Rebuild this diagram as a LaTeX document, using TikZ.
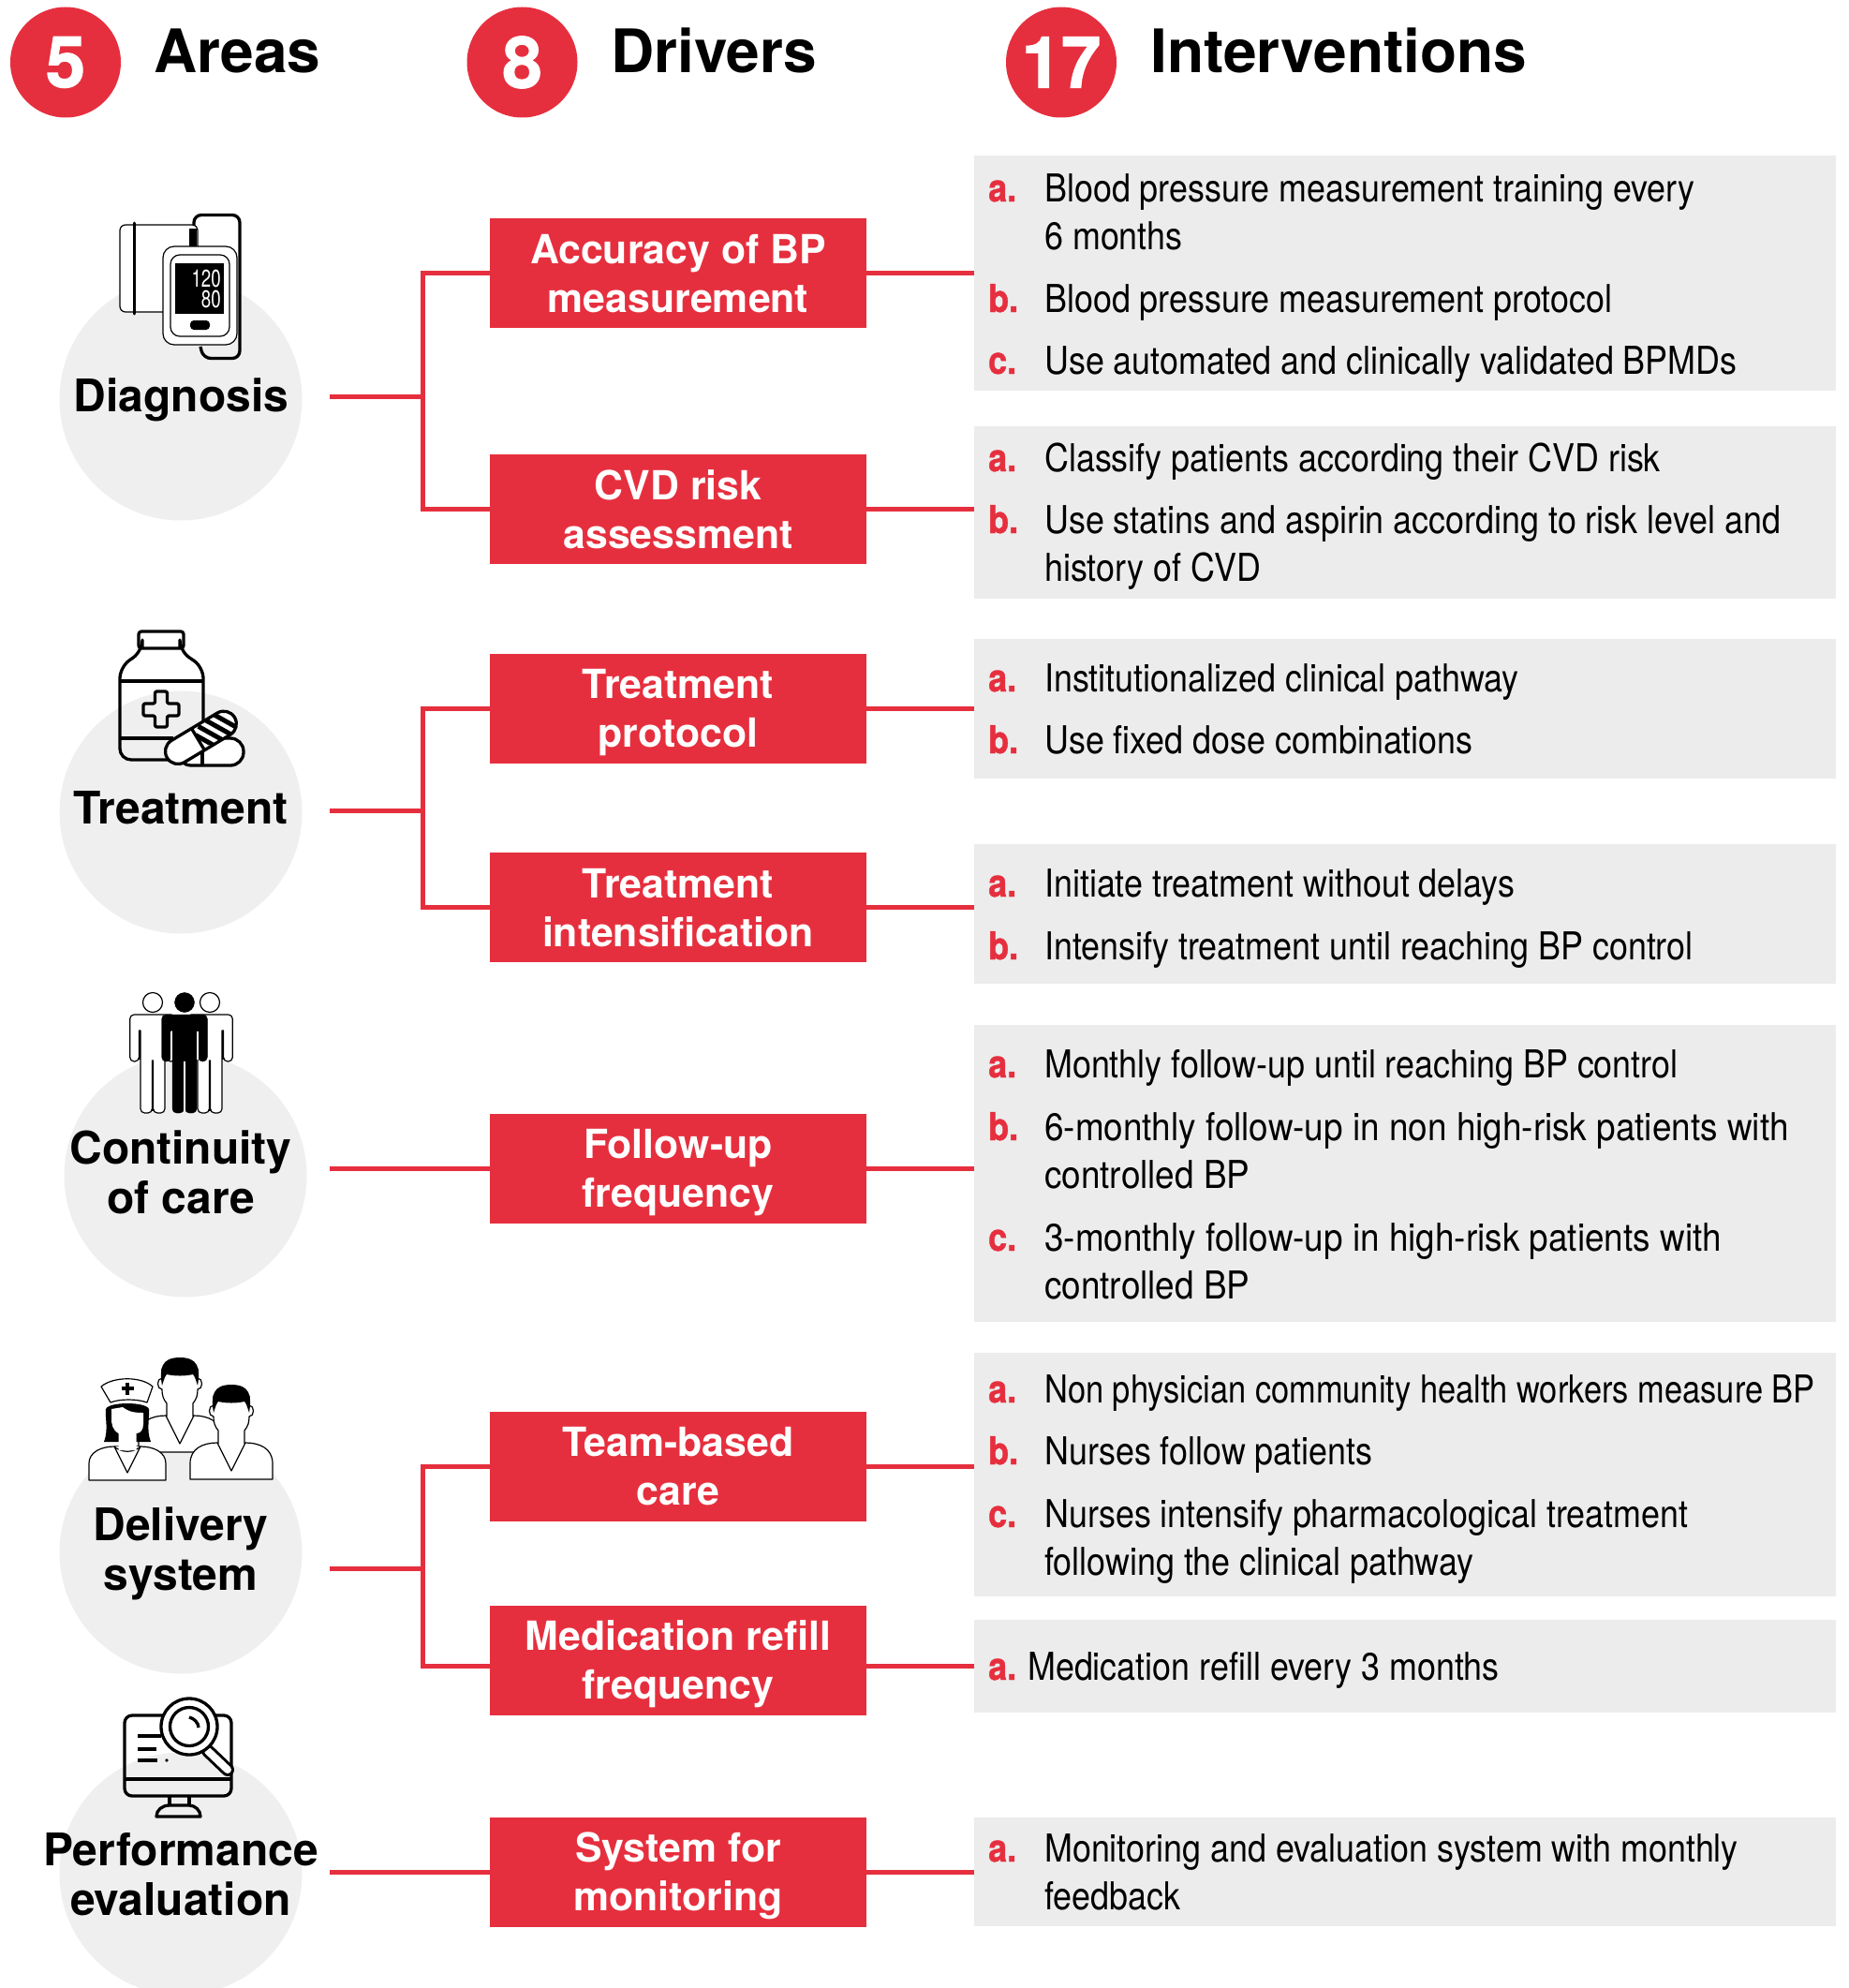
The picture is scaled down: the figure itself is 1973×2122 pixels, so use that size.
\documentclass[tikz,border=0pt]{standalone}
\usepackage{xcolor}
\usepackage{fontspec}
\setmainfont{TeX Gyre Heros}
\newfontfamily\condfont[FakeStretch=0.875, BoldFeatures={FakeBold=1}]{TeX Gyre Heros}
\newfontfamily\tightfont[FakeStretch=0.84]{TeX Gyre Heros}
\newfontfamily\widefont[FakeStretch=0.90]{TeX Gyre Heros}
\newfontfamily\countfont[BoldFeatures={FakeBold=1.5}]{TeX Gyre Heros}
\newfontfamily\lcdfont[FakeStretch=0.72]{TeX Gyre Heros}
\definecolor{wred}{HTML}{E62F3E}
\definecolor{wbox}{HTML}{ECECEC}
\definecolor{wdisc}{HTML}{EFEFEF}
\tikzset{
	wcount/.style={circle, fill=wred, text=white, minimum size=118pt, inner sep=0, font=\fontsize{76}{76}\countfont\bfseries},
	wtitle/.style={anchor=base west, inner sep=0, font=\fontsize{64}{64}\selectfont\bfseries},
	wdiscnode/.style={circle, fill=wdisc, minimum size=259pt, inner sep=0},
	warea/.style={anchor=base, inner sep=0, align=center, font=\fontsize{48}{53}\selectfont\bfseries},
	wdriver/.style={fill=wred, text=white, minimum width=402pt, minimum height=117pt, inner sep=0, align=center, text height=83pt, text depth=0pt, font=\fontsize{42.8}{52}\selectfont\bfseries},
	wpanel/.style={fill=wbox, anchor=north west, minimum width=920pt, inner sep=0},
	wletter/.style={anchor=base west, inner sep=0, text=wred, font=\fontsize{41}{51}\condfont\bfseries},
	witem/.style={anchor=base west, inner sep=0, align=left, font=\fontsize{41}{51}\condfont},
	wlink/.style={draw=wred, line width=5pt},
	wicon/.style={draw=black, line width=3.3pt, line join=round},
	wthin/.style={draw=black, line width=1.2pt, fill=white, line join=round},
}
\newcommand{\drawfigure}[3]{
	\begin{scope}[shift={(#1,1083)}]
		\draw[#2] (-24.3,20) [rounded corners=4.5] -- (-24.3,0) -- (24.3,0) -- (24.3,50) -- (14.6,50) [sharp corners] -- (14.6,17) -- (13,17) [rounded corners=4.5] -- (13,105) -- (0.6,105) [sharp corners] -- (0.6,49) -- (-0.6,49) [rounded corners=4.5] -- (-0.6,105) -- (-13,105) [sharp corners] -- (-13,17) -- (-14.6,17) [rounded corners=4.5] -- (-14.6,50) -- (-24.3,50) -- cycle;
		\draw[#2] (0,-13) circle (10.5);
		\draw[#3, line width=1.2pt] (14,18) -- (14,48) (-14,18) -- (-14,48) (0,50) -- (0,103);
	\end{scope}
}
\newcommand{\drawman}[2]{
	\begin{scope}[shift={(#1,#2)}]
		\draw[wthin] (-44,39) -- (-44,22) .. controls (-44,6) and (-30,0) .. (-15,0) -- (15,0) .. controls (30,0) and (44,6) .. (44,22) -- (44,39) -- cycle;
		\draw[wthin] (-15,0) -- (0,30) -- (15,0);
		\draw[wthin] (-14,1) -- (-14,-13) .. controls (-18,-18) and (-19,-22) .. (-19,-28) .. controls (-25,-28) and (-25,-40) .. (-19,-40) -- (-19,-50) -- (19,-50) -- (19,-40) .. controls (25,-40) and (25,-28) .. (19,-28) .. controls (19,-22) and (18,-18) .. (14,-13) -- (14,1);
		\fill[black] (-19,-32) .. controls (-22,-50) and (-20,-62) .. (0,-62) .. controls (20,-62) and (22,-50) .. (19,-32) .. controls (17,-38) and (16,-42) .. (14,-44) .. controls (5,-42) and (-5,-42) .. (-14,-44) .. controls (-16,-42) and (-17,-38) .. (-19,-32) -- cycle;
	\end{scope}
}
\begin{document}
\begin{tikzpicture}[x=1pt, y=-1pt]
	\useasboundingbox (0,0) rectangle (1973,2122);

	% header row
	\node[wcount] (fivecount) at (70,66.5) {5};
	\node[wcount] (eightcount) at (557.5,66.5) {8};
	\node[wcount] (seventeencount) at (1133,66.5) {17};
	\node[wtitle] (areastitle) at (164,78) {Areas};
	\node[wtitle] (driverstitle) at (652,78) {Drivers};
	\node[wtitle] (intervtitle) at (1228,78) {Interventions};

	% area discs
	\node[wdiscnode] (diagdisc) at (193,426) {};
	\node[wdiscnode] (treatdisc) at (193,867) {};
	\node[wdiscnode] (contdisc) at (198,1255) {};
	\node[wdiscnode] (delivdisc) at (193,1657) {};
	\node[wdiscnode] (perfdisc) at (193,2000) {};
	\node[warea] (diaglabel) at (193.5,439) {Diagnosis};
	\node[warea] (treatlabel) at (193,879) {Treatment};
	\node[warea] (contlabel) at (193,1295) {Continuity\\of care};
	\node[warea] (delivlabel) at (193,1697) {Delivery\\system};
	\node[warea] (perflabel) at (193,2044) {Performance\\evaluation};

	% grey panels
	\node[wpanel, minimum height=251pt] (accpanel) at (1040,166) {};
	\node[wpanel, minimum height=184pt] (cvdpanel) at (1040,455) {};
	\node[wpanel, minimum height=149pt] (protpanel) at (1040,682) {};
	\node[wpanel, minimum height=149pt] (intenspanel) at (1040,901) {};
	\node[wpanel, minimum height=317pt] (followpanel) at (1040,1094) {};
	\node[wpanel, minimum height=260pt] (teampanel) at (1040,1444) {};
	\node[wpanel, minimum height=99pt] (refillpanel) at (1040,1729) {};
	\node[wpanel, minimum height=116pt] (monitorpanel) at (1040,1940) {};

	% drivers
	\node[wdriver] (accbox) at (724,291.5) {Accuracy of BP\\measurement};
	\node[wdriver] (cvdbox) at (724,543.5) {CVD risk\\assessment};
	\node[wdriver] (protbox) at (724,756) {Treatment\\protocol};
	\node[wdriver] (intensbox) at (724,968.5) {Treatment\\intensification};
	\node[wdriver] (followbox) at (724,1247) {Follow-up\\frequency};
	\node[wdriver] (teambox) at (724,1565) {Team-based\\care};
	\node[wdriver] (refillbox) at (724,1772) {Medication refill\\frequency};
	\node[wdriver] (monitorbox) at (724,1998) {System for\\monitoring};

	% connectors
	\coordinate (diagout) at (352,423);
	\coordinate (treatout) at (352,865);
	\coordinate (contout) at (352,1247);
	\coordinate (delivout) at (352,1674);
	\coordinate (perfout) at (352,1998);
	\coordinate (diagfork) at (451,423);
	\coordinate (treatfork) at (451,865);
	\coordinate (delivfork) at (451,1674);
	\coordinate (refillin) at ([yshift=-6pt]refillbox.west);
	\coordinate (refillout) at ([yshift=-6pt]refillbox.east);
	\draw[wlink] (diagout) -- (diagfork);
	\draw[wlink] (treatout) -- (treatfork);
	\draw[wlink] (delivout) -- (delivfork);
	\draw[wlink] (contout) -- (followbox.west);
	\draw[wlink] (perfout) -- (monitorbox.west);
	\draw[wlink] (diagfork) |- (accbox.west);
	\draw[wlink] (diagfork) |- (cvdbox.west);
	\draw[wlink] (treatfork) |- (protbox.west);
	\draw[wlink] (treatfork) |- (intensbox.west);
	\draw[wlink] (delivfork) |- (teambox.west);
	\draw[wlink] (delivfork) |- (refillin);
	\draw[wlink] (accbox.east) -- (accbox.east -| accpanel.west);
	\draw[wlink] (cvdbox.east) -- (cvdbox.east -| cvdpanel.west);
	\draw[wlink] (protbox.east) -- (protbox.east -| protpanel.west);
	\draw[wlink] (intensbox.east) -- (intensbox.east -| intenspanel.west);
	\draw[wlink] (followbox.east) -- (followbox.east -| followpanel.west);
	\draw[wlink] (teambox.east) -- (teambox.east -| teampanel.west);
	\draw[wlink] (refillout) -- (refillout -| refillpanel.west);
	\draw[wlink] (monitorbox.east) -- (monitorbox.east -| monitorpanel.west);

	% interventions
	\node[wletter] (acca) at (1055,215) {a.};
	\node[witem] (accatext) at (1115,266) {Blood pressure measurement training every\\6 months};
	\node[wletter] (accb) at (1055,333) {b.};
	\node[witem] (accbtext) at (1115,333) {Blood pressure measurement protocol};
	\node[wletter] (accc) at (1055,399) {c.};
	\node[witem] (accctext) at (1115,399) {Use automated and clinically validated BPMDs};
	\node[wletter] (cvda) at (1055,503) {a.};
	\node[witem] (cvdatext) at (1115,503) {Classify patients according their CVD risk};
	\node[wletter] (cvdb) at (1055,569) {b.};
	\node[witem] (cvdbtext) at (1115,620) {Use statins and aspirin according to risk level and\\history of CVD};
	\node[wletter] (prota) at (1055,738) {a.};
	\node[witem] (protatext) at (1115,738) {Institutionalized clinical pathway};
	\node[wletter] (protb) at (1055,804) {b.};
	\node[witem] (protbtext) at (1115,804) {Use fixed dose combinations};
	\node[wletter] (intensa) at (1055,957) {a.};
	\node[witem] (intensatext) at (1115,957) {Initiate treatment without delays};
	\node[wletter] (intensb) at (1055,1024) {b.};
	\node[witem] (intensbtext) at (1115,1024) {Intensify treatment until reaching BP control};
	\node[wletter] (followa) at (1055,1150) {a.};
	\node[witem] (followatext) at (1115,1150) {Monthly follow-up until reaching BP control};
	\node[wletter] (followb) at (1055,1217) {b.};
	\node[witem, font=\fontsize{41}{51}\widefont] (followbtext) at (1115,1268) {6-monthly follow-up in non high-risk patients with\\controlled BP};
	\node[wletter] (followc) at (1055,1335) {c.};
	\node[witem, font=\fontsize{41}{51}\widefont] (followctext) at (1115,1386) {3-monthly follow-up in high-risk patients with\\controlled BP};
	\node[wletter] (teama) at (1055,1497) {a.};
	\node[witem, font=\fontsize{41}{51}\tightfont] (teamatext) at (1115,1497) {Non physician community health workers measure BP};
	\node[wletter] (teamb) at (1055,1563) {b.};
	\node[witem] (teambtext) at (1115,1563) {Nurses follow patients};
	\node[wletter] (teamc) at (1055,1630) {c.};
	\node[witem] (teamctext) at (1115,1681) {Nurses intensify pharmacological treatment\\following the clinical pathway};
	\node[wletter] (refilla) at (1055,1793) {a.};
	\node[witem] (refillatext) at (1097,1793) {Medication refill every 3 months};
	\node[wletter] (monitora) at (1055,1987) {a.};
	\node[witem] (monitoratext) at (1115,2038) {Monitoring and evaluation system with monthly\\feedback};

	% blood pressure meter
	\draw[wicon] (207,263) -- (207,238) [rounded corners=8] -- (207,229.5) -- (256,229.5) -- (256,382.5) -- (217,382.5) -- (214,370);
	\draw[wthin, rounded corners=6] (128,240) rectangle (211,333);
	\draw[black, line width=3pt, line cap=round] (143,238) -- (143,335);
	\fill[black] (202,244) rectangle (210,265);
	\draw[wthin, rounded corners=12] (174,263) rectangle (253,368);
	\draw[wthin, rounded corners=10] (182,272) rectangle (245,359);
	\fill[black] (187,281) rectangle (239,335);
	\fill[black, rounded corners=4] (203,342) rectangle (224,352);
	\node[anchor=base east, inner sep=0, text=white, font=\fontsize{26}{26}\lcdfont] (sysvalue) at (236,306) {120};
	\node[anchor=base east, inner sep=0, text=white, font=\fontsize{26}{26}\lcdfont] (diavalue) at (236,328) {80};

	% bottle and pills
	\draw[wicon, rounded corners=3] (148,674) rectangle (196,692);
	\draw[wicon, rounded corners=12] (152,692) -- (152,695) -- (128,712) -- (128,811) -- (190,811);
	\draw[wicon, rounded corners=12] (192,692) -- (192,695) -- (217,712) -- (217,775);
	\draw[wicon] (128,727) -- (217,727);
	\draw[wicon] (128,788) -- (185,788);
	\draw[wicon, rounded corners=2] (165.5,738) -- (178.5,738) -- (178.5,751) -- (191,751) -- (191,764) -- (178.5,764) -- (178.5,776) -- (165.5,776) -- (165.5,764) -- (153,764) -- (153,751) -- (165.5,751) -- cycle;
	\draw[wicon, fill=white, rounded corners=14] (190,788) rectangle (260,817);
	\draw[wicon] (216,800) -- (216,817);
	\begin{scope}[shift={(190,802)}, rotate=31]
		\draw[wicon, fill=white, rounded corners=13.5] (-13.5,-13.5) rectangle (70.5,13.5);
		\draw[wicon] (25,-13.5) -- (25,13.5);
		\begin{scope}
			\clip[rounded corners=13.5] (25,-13.5) rectangle (70.5,13.5);
			\draw[black, line width=5pt] (20,-14) -- (36,14);
			\draw[black, line width=5pt] (31,-14) -- (47,14);
			\draw[black, line width=5pt] (42,-14) -- (58,14);
			\draw[black, line width=5pt] (53,-14) -- (69,14);
		\end{scope}
	\end{scope}

	% three figures
	\drawfigure{163}{wthin}{black}
	\drawfigure{224}{wthin}{black}
	\drawfigure{197}{fill=black}{white}

	% care team
	\drawman{192}{1511}
	\begin{scope}[shift={(136,1544)}]
		\fill[black] (-25,-5) .. controls (-20,-18) and (-24,-30) .. (-23,-40) .. controls (-20,-48) and (20,-48) .. (23,-40) .. controls (24,-30) and (20,-18) .. (25,-5) -- cycle;
		\draw[wthin] (-41,36) -- (-41,18) .. controls (-41,6) and (-28,0) .. (-14,0) -- (14,0) .. controls (28,0) and (41,6) .. (41,18) -- (41,36) -- cycle;
		\draw[wthin] (-14,0) -- (0,28) -- (14,0);
		\draw[wthin] (-14,0) .. controls (-6,7) and (6,7) .. (14,0);
		\fill[white] (-9.5,4) -- (-9.5,-14) .. controls (-16,-18) and (-17,-24) .. (-17,-30) -- (-17,-40) -- (-5,-42) .. controls (3,-36) and (10,-36) .. (17,-36) -- (17,-24) .. controls (17,-18) and (14,-14) .. (9.5,-14) -- (9.5,4) -- cycle;
		\draw[wthin] (-28,-64) .. controls (-15,-75) and (15,-75) .. (27,-64) -- (21,-47) .. controls (10,-51) and (-8,-51) .. (-18,-47) -- cycle;
		\draw[black, line width=3.6pt] (-6.5,-62) -- (6.5,-62) (0,-68.5) -- (0,-55.5);
	\end{scope}
	\drawman{247}{1540}

	% monitor and lens
	\draw[wicon, rounded corners=8] (133,1831) rectangle (247,1917);
	\draw[wicon] (133,1899) -- (247,1899);
	\draw[wicon] (181,1917) -- (181,1927);
	\draw[wicon] (202,1917) -- (202,1927);
	\draw[wicon] (167,1939) .. controls (167,1932) and (173,1927) .. (181,1927) -- (202,1927) .. controls (208,1927) and (214,1932) .. (214,1939) -- cycle;
	\draw[wicon] (147,1853) -- (172,1853);
	\draw[wicon] (147,1867) -- (167,1867);
	\draw[wicon] (147,1879) -- (168,1879);
	\fill[black] (178,1879) circle (1.8);
	\draw[black, line width=14pt, line cap=round] (222,1869) -- (243,1889);
	\draw[white, line width=8pt, line cap=round] (222,1869) -- (243,1889);
	\draw[wicon, fill=white] (202,1843) circle (30);
	\draw[wicon] (202,1843) circle (20.5);
	\draw[wicon] (202,1833) .. controls (207,1834) and (212,1839) .. (212,1844);
\end{tikzpicture}
\end{document}
